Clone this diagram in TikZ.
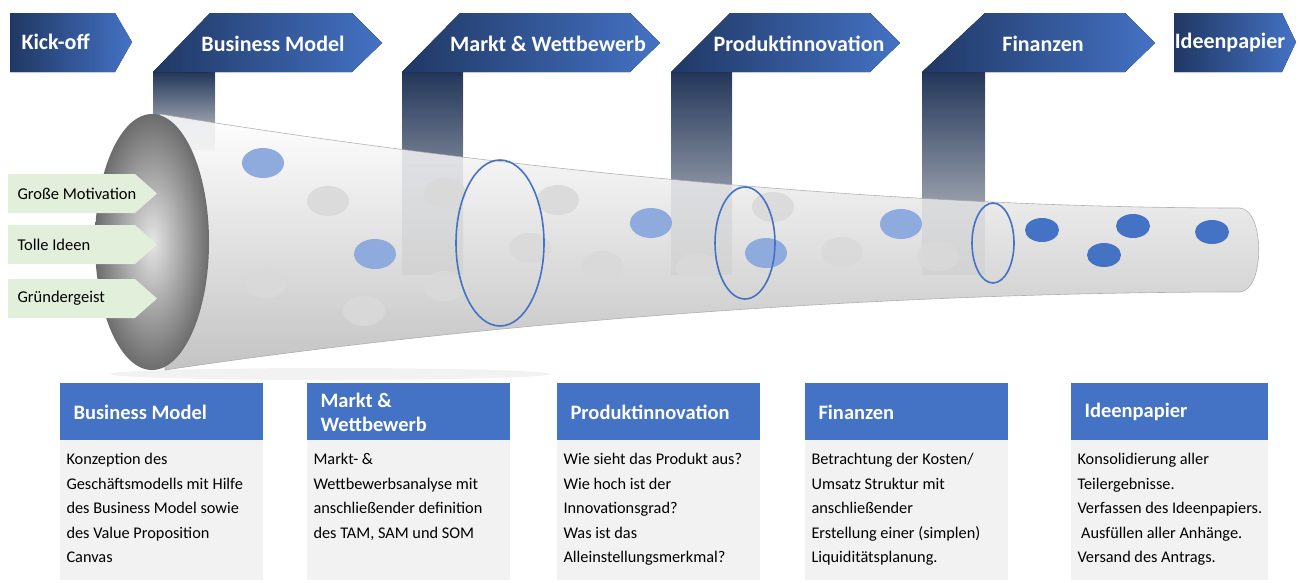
\documentclass[tikz,border=0pt]{standalone}
\usepackage{fontspec}
\setmainfont{Carlito}
\usetikzlibrary{shapes.geometric}
\definecolor{dkb}{HTML}{203864}
\definecolor{mb}{HTML}{4472C4}
\definecolor{lb}{HTML}{8FAADC}
\definecolor{gr}{HTML}{D9D9D9}
\definecolor{lg}{HTML}{E2EFDA}
\definecolor{bx}{HTML}{F2F2F2}
\tikzset{
 banner/.style={left color=dkb,right color=mb,draw=none},
 btxt/.style={text=white,font=\bfseries\fontsize{22}{24}\selectfont},
 col/.style={top color=dkb,bottom color=white,draw=none,opacity=0.8},
 tag/.style={fill=lg,draw=none},
 ttxt/.style={font=\fontsize{16.5}{18}\selectfont,anchor=west},
 dotl/.style={fill=lb,draw=none},
 dotd/.style={fill=mb,draw=none},
 dotg/.style={fill=gr,draw=none,opacity=0.9},
 ring/.style={draw=mb,line width=1.6pt},
 hdr/.style={fill=mb,draw=none},
 htxt/.style={text=white,font=\bfseries\fontsize{20.5}{24}\selectfont,anchor=west,align=left},
 body/.style={fill=bx,draw=none},
 btx/.style={font=\fontsize{16.3}{24.5}\selectfont,anchor=north west,align=left}
}
\begin{document}
\begin{tikzpicture}[x=1pt,y=-1pt]
\useasboundingbox (0,0) rectangle (1300,582);
% columns
\fill[col] (153,72) rectangle (215,150);
\fill[col] (402,72) rectangle (463,275);
\fill[col] (671,72) rectangle (732,275);
\fill[col] (922,72) rectangle (985,275);
% shadow
\fill[gray!20,opacity=0.5] (330,374) ellipse (220 and 6);
% funnel body
\path[top color=white,bottom color=gray!55,draw=gray!70,line width=0.6pt,opacity=0.85]
 (160,114) .. controls (500,170) and (900,208) .. (1240,208)
 .. controls (1265,210) and (1265,290) .. (1240,292)
 .. controls (900,292) and (500,320) .. (165,370) -- cycle;
% mouth
\shade[outer color=gray!85!black,inner color=gray!20] (152,242) ellipse (57 and 128);
% dots
\foreach \p in {(328,201),(445,193),(558,200),(530,248),(602,266),(266,283),(364,311),(445,286),(773,207),(697,268),(842,252),(938,256)}
 \fill[dotg] \p ellipse (21 and 15);
\foreach \p in {(263,163),(375,254),(651,223),(766,253),(901,224)}
 \fill[dotl] \p ellipse (21 and 15);
\foreach \p in {(1042,230),(1133,226),(1104,255),(1212,232)}
 \fill[dotd] \p ellipse (17 and 12);
% rings
\draw[ring] (500,243) ellipse (44 and 83);
\draw[ring] (745,243) ellipse (30 and 56);
\draw[ring] (993,243) ellipse (21 and 40);
% tags
\foreach \y/\t in {174/Große Motivation,225/Tolle Ideen,279/Gründergeist}{
 \fill[tag] (8,\y) -- (135,\y) -- (157,\y+19.5) -- (135,\y+39) -- (8,\y+39) -- cycle;
 \node[ttxt] at (14,\y+19.5) {\t};}
% banners
\fill[banner] (10,13) -- (115,13) -- (132,42) -- (115,72) -- (10,72) -- cycle;
\node[btxt,anchor=west] (k) at (18,42) {Kick-off};
\fill[banner] (153,72) -- (210,13) -- (352,13) -- (382,43) -- (352,72) -- cycle;
\node[btxt] (b1) at (273,44) {Business Model};
\fill[banner] (402,72) -- (460,13) -- (630,13) -- (660,43) -- (630,72) -- cycle;
\node[btxt] (b2) at (548,44) {Markt \& Wettbewerb};
\fill[banner] (671,72) -- (730,13) -- (870,13) -- (900,43) -- (870,72) -- cycle;
\node[btxt] (b3) at (799,44) {Produktinnovation};
\fill[banner] (922,72) -- (985,13) -- (1125,13) -- (1155,43) -- (1125,72) -- cycle;
\node[btxt] (b4) at (1043,44) {Finanzen};
\fill[banner] (1174,13) -- (1282,13) -- (1296,42) -- (1282,72) -- (1174,72) -- cycle;
\node[btxt] (b5) at (1230,43) {Ideenpapier};
% bottom boxes
\foreach \x/\w/\h/\b in {
 60/203/Business Model/{Konzeption des\\Geschäftsmodells mit Hilfe\\des Business Model sowie\\des Value Proposition\\Canvas},
 307/203/{Markt \&\\Wettbewerb}/{Markt- \&\\Wettbewerbsanalyse mit\\anschließender definition\\des TAM, SAM und SOM},
 557/203/Produktinnovation/{Wie sieht das Produkt aus?\\Wie hoch ist der\\Innovationsgrad?\\Was ist das\\Alleinstellungsmerkmal?},
 805/203/Finanzen/{Betrachtung der Kosten/\\Umsatz Struktur mit\\anschließender\\Erstellung einer (simplen)\\Liquiditätsplanung.},
 1071/197/Ideenpapier/{Konsolidierung aller\\Teilergebnisse.\\Verfassen des Ideenpapiers.\\\ Ausfüllen aller Anhänge.\\Versand des Antrags.}}{
 \fill[body] (\x,440) rectangle (\x+\w,580);
 \fill[hdr] (\x,383) rectangle (\x+\w,440);
 \node[htxt] at (\x+10,412) {\h};
 \node[btx] at (\x+3,450) {\b};}
\end{tikzpicture}
\end{document}
